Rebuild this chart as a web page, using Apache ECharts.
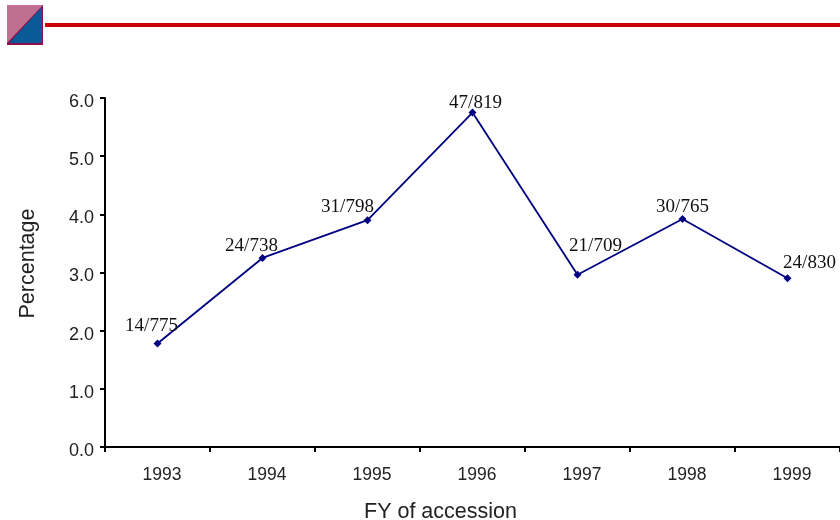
<!DOCTYPE html>
<html><head><meta charset="utf-8">
<style>html,body{margin:0;padding:0;background:#fff}#c{width:840px;height:520px}</style>
<script src="https://cdn.jsdelivr.net/npm/echarts@6/dist/echarts.min.js"></script>
</head><body><div id="c"></div>
<script>
const categories = ['1993','1994','1995','1996','1997','1998','1999'];
const percentages = [1.78, 3.25, 3.9, 5.75, 2.96, 3.92, 2.9];
const fractions = ['14/775','24/738','31/798','47/819','21/709','30/765','24/830'];
const labelOffsets = [[-6,1],[-11,7],[-20,5],[3,9],[18,-10],[0,7],[22,3]];
const sans = '"Liberation Sans", Arial, sans-serif';
const chart = echarts.init(document.getElementById('c'), null, {renderer:'canvas'});
chart.setOption({
  animation:false,
  backgroundColor:'#fff',
  grid:{left:105,right:0,top:98,bottom:73,containLabel:false,outerBoundsMode:'none'},
  xAxis:{
    type:'category',data:categories,boundaryGap:true,
    name:'FY of accession',nameLocation:'middle',nameGap:54,
    nameTextStyle:{fontFamily:sans,fontSize:21.5,color:'#222',padding:[0,64,0,0]},
    axisLine:{show:true,lineStyle:{color:'#000',width:2}},
    axisTick:{show:true,alignWithLabel:false,length:5,lineStyle:{color:'#000',width:2}},
    axisLabel:{fontFamily:sans,fontSize:17.5,color:'#222',margin:19,padding:[0,0,0,9]},
    splitLine:{show:false}
  },
  yAxis:{
    type:'value',min:0,max:6,interval:1,
    name:'Percentage',nameLocation:'middle',nameGap:66,
    nameTextStyle:{fontFamily:sans,fontSize:21.5,color:'#222',padding:[0,0,0,18]},
    axisLine:{show:true,onZero:false,lineStyle:{color:'#000',width:2}},
    axisTick:{show:true,length:5,lineStyle:{color:'#000',width:2}},
    axisLabel:{fontFamily:sans,fontSize:18,color:'#222',margin:11,verticalAlign:'top',lineHeight:8,
      formatter:v=>v.toFixed(1)},
    splitLine:{show:false}
  },
  series:[{
    type:'line',
    data:percentages.map((v,i)=>({
      value:v,
      label:{show:true,position:'top',offset:labelOffsets[i],formatter:fractions[i]}
    })),
    symbol:'diamond',symbolSize:8,
    lineStyle:{color:'#000080',width:1.8},
    itemStyle:{color:'#000080'},
    label:{fontFamily:'"Liberation Serif", "Times New Roman", serif',fontSize:19,color:'#111'}
  }],
  graphic:[
    {type:'rect',shape:{x:45,y:23,width:795,height:4},style:{fill:'#cc0000'},silent:true},
    {type:'rect',shape:{x:7,y:5,width:36,height:40},style:{fill:'#8e1048'},silent:true},
    {type:'polygon',shape:{points:[[7,5],[43,5],[7,43]]},style:{fill:'#bf7090'},silent:true},
    {type:'polygon',shape:{points:[[42,7],[42,43],[9,43]]},style:{fill:'#0a5a98'},silent:true}
  ]
});
</script></body></html>
